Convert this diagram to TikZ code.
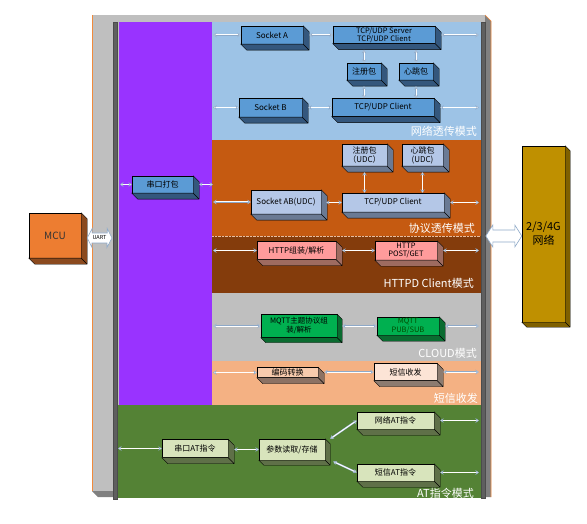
\documentclass[tikz,border=0pt]{standalone}
\usepackage{fontspec}
\setmainfont{Noto Sans CJK SC}
\usepackage{tikz}
\usetikzlibrary{arrows.meta}
\usepackage{xcolor}
\definecolor{panelgrey}{HTML}{BFBFBF}
\definecolor{paneldark}{HTML}{808080}
\definecolor{bargrey}{HTML}{5F5F5F}
\definecolor{rimorange}{HTML}{F08A3C}
\definecolor{linkblue}{HTML}{8EA9C8}
\definecolor{purplezone}{HTML}{9933FF}
\definecolor{netzone}{HTML}{9DC3E6}
\definecolor{protozone}{HTML}{C55A11}
\definecolor{httpzone}{HTML}{843C0C}
\definecolor{smszone}{HTML}{F4B183}
\definecolor{atzone}{HTML}{548235}
\definecolor{boxblue}{HTML}{5B9BD5}
\definecolor{boxblueD}{HTML}{34577D}
\definecolor{lav}{HTML}{B4C7E7}
\definecolor{lavD}{HTML}{6A7A94}
\definecolor{pinkbox}{HTML}{FF9B9B}
\definecolor{pinkD}{HTML}{9E6B60}
\definecolor{mqttgreen}{HTML}{00B050}
\definecolor{mqttD}{HTML}{0A6B30}
\definecolor{peach}{HTML}{F8CBAD}
\definecolor{peachD}{HTML}{8C7264}
\definecolor{smsbox}{HTML}{FCE4D6}
\definecolor{smsD}{HTML}{8C7B70}
\definecolor{atbox}{HTML}{D8E4BC}
\definecolor{atD}{HTML}{5F7048}
\definecolor{mcubox}{HTML}{ED7D31}
\definecolor{mcuD}{HTML}{8B4A1E}
\definecolor{netbox}{HTML}{BF9000}
\definecolor{netD}{HTML}{7F6000}
\tikzset{>={Stealth[length=3.5pt,width=4.5pt,color=linkblue,fill=white,line width=0.4pt]}}

% side and bottom face of a raised box
\newcommand{\boxshade}[3][6]{%
  \filldraw[fill=#3, draw=black, line width=0.4pt]
    (#2.north east) -- ++(#1,#1) -- ([shift={(#1,#1)}]#2.south east)
    -- ([shift={(#1,#1)}]#2.south west) -- (#2.south west) -- (#2.south east) -- cycle
    (#2.south east) -- ++(#1,#1);}

\begin{document}
\begin{tikzpicture}[x=1pt, y=-1pt]
  \tikzstyle{every node}=[font=\fontsize{8}{9}\selectfont, text=black]
  \tikzstyle{cell}=[draw=black, line width=0.4pt, inner sep=0pt, align=center]
  \tikzstyle{link}=[<->, white, line width=1pt,
      preaction={draw=linkblue, line width=1.8pt, -, shorten <=1.5pt, shorten >=1.5pt}]
  \tikzstyle{mode}=[anchor=east, text=white, inner sep=0pt, font=\fontsize{11}{11}\selectfont]
  \tikzstyle{bigarrow}=[draw=linkblue, fill=white, line width=0.6pt, line join=miter]
  \useasboundingbox (0,0) rectangle (587,524);

  % module frame and zones
  \fill[panelgrey] (92,15) rectangle (485,491);
  \fill[paneldark] (485,15) -- (491,21) -- (491,497) -- (98,497) -- (92,491) -- (485,491) -- cycle;
  \draw[rimorange, line width=0.6pt] (92,491) -- (92,15);
  \draw[rimorange, line width=0.6pt] (485,15) -- (491,21) -- (491,497);
  \fill[purplezone] (119,22) rectangle (212,405);
  \fill[netzone] (212,22) rectangle (481,140);
  \fill[protozone] (212,140) rectangle (481,236);
  \fill[httpzone] (212,236) rectangle (481,293);
  \fill[panelgrey] (212,293) rectangle (481,361);
  \fill[smszone] (212,361) rectangle (481,405);
  \fill[atzone] (117,405) rectangle (481,498);
  \draw[white!60!protozone, densely dotted, line width=0.4pt] (212,236) -- (481,236);
  \filldraw[fill=bargrey, draw=black!70, line width=0.3pt] (113,22) rectangle (117,499);
  \filldraw[fill=bargrey, draw=black!70, line width=0.3pt] (481,22) rectangle (485,498);

  \coordinate (pl) at (120,0);
  \coordinate (pe) at (213,0);
  \coordinate (gl) at (118,0);
  \coordinate (rb) at (479,0);
  \coordinate (ub) at (112,238);

  % outside
  \node[cell, fill=mcubox, minimum width=52, minimum height=45, text=black!80, font=\fontsize{10}{10}\selectfont] (MCU) at (55,235.5) {MCU};
  \boxshade{MCU}{mcuD}
  \node[cell, fill=netbox, minimum width=43, minimum height=176, font=\fontsize{11}{14}\selectfont] (NET) at (543.5,234) {2/3/4G\\网络};
  \boxshade[5]{NET}{netD}
  \draw[bigarrow] ([xshift=6pt]MCU.east |- ub) -- ++(5,-9.5) -- ++(0,4.5) -- ++(15,0) -- ++(0,-4.5)
      -- (ub) -- ++(-5,9.5) -- ++(0,-4.5) -- ++(-15,0) -- ++(0,4.5) -- cycle;
  \node[inner sep=0pt, font=\fontsize{5.5}{5.5}\selectfont] (UART) at (99.5,238) {UART};
  \draw[bigarrow] ([yshift=-2pt]NET.west) -- ++(-7,-11) -- ++(0,5) -- ++(-22,0) -- ++(0,-5)
      -- ++(-7,11) -- ++(7,11) -- ++(0,-5) -- ++(22,0) -- ++(0,5) -- cycle;

  % purple zone
  \node[cell, fill=boxblue, minimum width=61, minimum height=17] (SP) at (162.5,184.5) {串口打包};
  \boxshade{SP}{boxblueD}
  \draw[link] (SP.west -| pl) -- (SP.west);
  \draw[link] ([xshift=6pt]SP.east) -- (SP.east -| pe);

  % network mode
  \node[cell, fill=boxblue, minimum width=62, minimum height=18] (SA) at (272,35) {Socket A};
  \boxshade{SA}{boxblueD}
  \node[cell, fill=boxblue, minimum width=102, minimum height=17, font=\fontsize{7.5}{8}\selectfont] (TS) at (384,35) {TCP/UDP Server\\TCP/UDP Client};
  \boxshade{TS}{boxblueD}
  \node[cell, fill=boxblue, minimum width=34, minimum height=17] (R1) at (364,71.5) {注册包};
  \boxshade{R1}{boxblueD}
  \node[cell, fill=boxblue, minimum width=34, minimum height=17] (H1) at (416,71.5) {心跳包};
  \boxshade{H1}{boxblueD}
  \node[cell, fill=boxblue, minimum width=63, minimum height=19] (SB) at (270.5,107.5) {Socket B};
  \boxshade{SB}{boxblueD}
  \node[cell, fill=boxblue, minimum width=102, minimum height=18] (TC) at (383,107.5) {TCP/UDP Client};
  \boxshade{TC}{boxblueD}
  \draw[link] (SA.west -| pe) -- (SA.west);
  \draw[link] ([xshift=6pt]SA.east) -- (TS.west);
  \draw[link] ([xshift=6pt]TS.east) -- (TS.east -| rb);
  \draw[link] ([yshift=-6pt]TS.south -| R1) -- (R1.north);
  \draw[link] ([yshift=-6pt]TS.south -| H1) -- (H1.north);
  \draw[link] ([yshift=-6pt]R1.south) -- (R1.south |- TC.north);
  \draw[link] ([yshift=-6pt]H1.south) -- (H1.south |- TC.north);
  \draw[link] (SB.west -| pe) -- (SB.west);
  \draw[link] ([xshift=6pt]SB.east) -- (TC.west);
  \draw[link] ([xshift=6pt]TC.east) -- (TC.east -| rb);
  \node[mode] (NM) at (477,131) {网络透传模式};

  % protocol mode
  \node[cell, fill=lav, minimum width=45, minimum height=22] (R2) at (364.5,155) {注册包\\（UDC）};
  \boxshade{R2}{lavD}
  \node[cell, fill=lav, minimum width=41, minimum height=22] (H2) at (422.5,155) {心跳包\\(UDC)};
  \boxshade{H2}{lavD}
  \node[cell, fill=lav, minimum width=70, minimum height=24] (SAB) at (286,202) {Socket AB(UDC)};
  \boxshade{SAB}{lavD}
  \node[cell, fill=lav, minimum width=102, minimum height=19] (TC2) at (393,202.5) {TCP/UDP Client};
  \boxshade{TC2}{lavD}
  \draw[link] (SAB.west -| pe) -- (SAB.west);
  \draw[link] ([xshift=5pt]SAB.east |- TC2.west) -- (TC2.west);
  \draw[link] ([yshift=-6pt]R2.south) -- (R2.south |- TC2.north);
  \draw[link] ([yshift=-6pt]H2.south) -- (H2.south |- TC2.north);
  \draw[link] ([xshift=6pt]TC2.east) -- (TC2.east -| rb);
  \node[mode] (PM) at (475,228) {协议透传模式};

  % httpd client mode
  \node[cell, fill=pinkbox, minimum width=79, minimum height=18] (HG) at (296.5,250.5) {HTTP组装/解析};
  \boxshade{HG}{pinkD}
  \node[cell, fill=pinkbox, minimum width=62, minimum height=19, font=\fontsize{7.5}{8.5}\selectfont] (HP) at (406,250.5) {HTTP\\POST/GET};
  \boxshade{HP}{pinkD}
  \draw[link] (HG.west -| pe) -- (HG.west);
  \draw[link] ([xshift=6pt]HG.east) -- (HP.west);
  \draw[link] ([xshift=6pt]HP.east) -- (HP.east -| rb);
  \node[mode] (HM) at (474,283) {HTTPD Client模式};

  % cloud mode
  \node[cell, fill=mqttgreen, minimum width=76, minimum height=23, font=\fontsize{7.5}{9}\selectfont] (MG) at (299,326) {MQTT主题协议组\\装/解析};
  \boxshade[5]{MG}{mqttD}
  \node[cell, fill=mqttgreen, minimum width=62, minimum height=18, text=black!70!green, font=\fontsize{7.5}{8.5}\selectfont] (MP) at (408,326) {MQTT\\PUB/SUB};
  \boxshade{MP}{mqttD}
  \draw[link] (MG.west -| pe) -- (MG.west);
  \draw[link] ([xshift=5pt]MG.east) -- (MP.west);
  \draw[link] ([xshift=6pt]MP.east) -- (MP.east -| rb);
  \node[mode] (CM) at (477,353) {CLOUD模式};

  % sms
  \node[cell, fill=peach, minimum width=61, minimum height=10] (EC) at (287.5,372.5) {编码转换};
  \boxshade{EC}{peachD}
  \node[cell, fill=smsbox, minimum width=63, minimum height=17] (SM) at (405.5,372) {短信收发};
  \boxshade{SM}{smsD}
  \draw[link] (EC.west -| pe) -- (EC.west);
  \draw[link] ([xshift=6pt]EC.east |- SM.west) -- (SM.west);
  \draw[link] ([xshift=6pt]SM.east) -- (SM.east -| rb);
  \node[mode] (SMM) at (478,398) {短信收发};

  % at command mode
  \node[cell, fill=atbox, minimum width=66, minimum height=18] (ATS) at (195,448.5) {串口AT指令};
  \boxshade{ATS}{atD}
  \node[cell, fill=atbox, minimum width=66, minimum height=21] (PRM) at (292,449.5) {参数读取/存储};
  \boxshade[5]{PRM}{atD}
  \node[cell, fill=atbox, minimum width=77, minimum height=17] (NAT) at (395.5,420.5) {网络AT指令};
  \boxshade{NAT}{atD}
  \node[cell, fill=atbox, minimum width=77, minimum height=17] (SAT) at (395.5,472.5) {短信AT指令};
  \boxshade{SAT}{atD}
  \draw[link] (ATS.west -| gl) -- (ATS.west);
  \draw[link] ([xshift=6pt]ATS.east |- PRM.west) -- (PRM.west);
  \draw[link] ([xshift=5pt]PRM.north east) -- (NAT.west);
  \draw[link] ([shift={(8,12)}]PRM.east) -- (SAT.west);
  \draw[link] ([xshift=6pt]NAT.east) -- (NAT.east -| rb);
  \draw[link] ([xshift=6pt]SAT.east) -- (SAT.east -| rb);
  \node[mode] (AM) at (474,493) {AT指令模式};
\end{tikzpicture}
\end{document}
